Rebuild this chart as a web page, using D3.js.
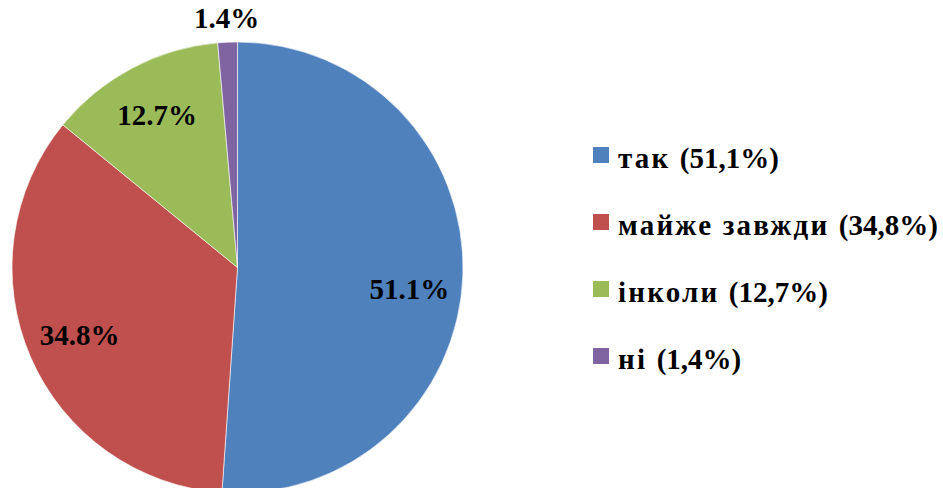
<!DOCTYPE html>
<html><head><meta charset="utf-8">
<script src="https://cdn.jsdelivr.net/npm/d3@7"></script>
<style>html,body{margin:0;padding:0;background:#fff;}svg{display:block;}</style>
</head><body>
<svg id="chart" width="943" height="488"></svg>
<script>
const categories = ["так", "майже завжди", "інколи", "ні"];
const values = [51.1, 34.8, 12.7, 1.4];
const legendPercents = ["(51,1%)", "(34,8%)", "(12,7%)", "(1,4%)"];
const sliceLabels = ["51.1%", "34.8%", "12.7%", "1.4%"];
const colors = ["#4F81BD", "#C0504D", "#9BBB59", "#8064A2"];

const svg = d3.select("#chart");
const cx = 237.5, cy = 267.5, R = 225.5;
const font = "'Liberation Serif','Times New Roman',serif";

const data = categories.map((c, i) => ({cat: c, value: values[i], label: sliceLabels[i], pct: legendPercents[i], color: colors[i]}));
const pie = d3.pie().value(d => d.value).sort(null);
const arcs = pie(data);
const arc = d3.arc().innerRadius(0).outerRadius(R);
const g = svg.append("g").attr("transform", `translate(${cx},${cy})`);
g.selectAll("path").data(arcs).join("path")
  .attr("d", arc).attr("fill", d => d.data.color)
  .attr("stroke", "#fff").attr("stroke-width", 0.6);

const inner = d3.arc().innerRadius(172).outerRadius(172);
const outer = d3.arc().innerRadius(249).outerRadius(249);
g.selectAll("text.lbl").data(arcs).join("text").attr("class", "lbl")
  .attr("transform", d => {
    const frac = (d.endAngle - d.startAngle) / (2 * Math.PI);
    const p = frac < 0.05 ? outer.centroid(d) : inner.centroid(d);
    // large slices: Excel best-fit nudges label toward the slice's lower half
    if (frac > 0.5) p[1] += 16;
    return `translate(${p[0]},${p[1]})`;
  })
  .attr("text-anchor", "middle").attr("dy", "0.33em")
  .style("font-family", font).style("font-weight", "bold").style("font-size", "29px")
  .attr("fill", "#000").text(d => d.data.label);

const lg = svg.append("g").attr("transform", "translate(593,147)");
const rows = lg.selectAll("g").data(data).join("g")
  .attr("transform", (d, i) => `translate(0,${i * 67})`);
rows.append("rect").attr("width", 16).attr("height", 16).attr("fill", d => d.color);
const txt = rows.append("text").attr("x", 25).attr("y", 21)
  .style("font-family", font).style("font-weight", "bold").style("font-size", "29px")
  .attr("fill", "#000");
txt.append("tspan").style("letter-spacing", "2.2px").text(d => d.cat + " ");
txt.append("tspan").text(d => d.pct);
</script>
</body></html>
